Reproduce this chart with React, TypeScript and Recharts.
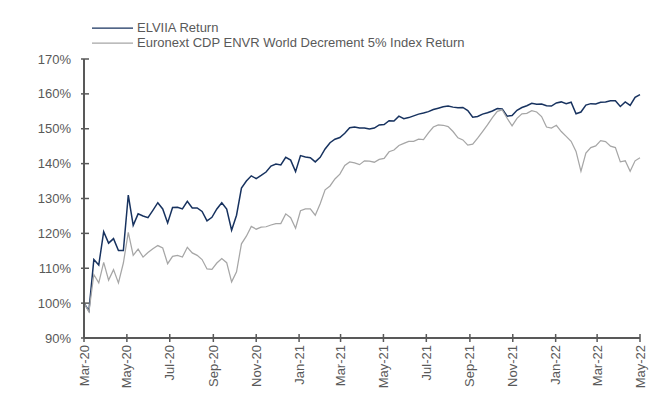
import { LineChart, Line, XAxis, YAxis, Legend } from 'recharts';

// weekly closes, starting 20 Mar 2020 and ending 20 May 2022
const startDate = '2020-03-20';

const elviiaReturn = [
  100.0, 97.8, 112.5, 110.9, 120.5, 117.2, 118.5, 115.1, 115.1, 131.0,
  122.3, 125.6, 125.0, 124.5, 126.6, 128.8, 127.0, 123.0, 127.4, 127.5,
  127.0, 129.2, 127.3, 127.3, 126.3, 123.6, 124.6, 127.0, 128.8, 127.0,
  120.9, 125.2, 133.0, 135.0, 136.5, 135.7, 136.6, 137.6, 139.3, 139.9,
  139.6, 141.8, 141.0, 137.7, 142.3, 141.9, 141.7, 140.5, 141.8, 144.2,
  146.0, 147.0, 147.5, 148.7, 150.3, 150.5, 150.2, 150.2, 149.9, 150.2,
  151.1, 151.2, 152.3, 152.2, 153.6, 152.9, 153.2, 153.7, 154.2, 154.5,
  154.9, 155.5, 155.9, 156.3, 156.5, 156.2, 156.0, 156.1, 155.2, 153.3,
  153.5, 154.2, 154.6, 155.1, 155.8, 155.7, 153.6, 153.8, 155.3, 156.1,
  156.6, 157.3, 157.0, 157.1, 156.6, 156.5, 157.4, 157.7, 157.2, 157.6,
  154.3, 154.8, 156.8, 157.2, 157.1, 157.6, 157.7, 158.0, 158.0, 156.4,
  157.7, 156.7, 159.0, 159.8,
];

const indexReturn = [
  100.0, 97.5, 108.2, 105.8, 111.7, 106.6, 109.6, 105.8, 111.5, 120.3,
  113.7, 115.5, 113.2, 114.5, 115.6, 116.5, 115.8, 111.3, 113.4, 113.7,
  113.2, 116.0, 114.4, 113.7, 112.5, 109.8, 109.7, 111.5, 112.8, 111.6,
  106.1, 109.0, 117.0, 119.2, 122.0, 121.2, 121.8, 121.9, 122.4, 122.8,
  122.8, 125.6, 124.5, 121.5, 126.5, 127.0, 127.0, 125.2, 128.5, 132.5,
  133.6, 135.6, 137.0, 139.5, 140.5, 140.2, 139.7, 140.8, 140.7, 140.4,
  141.2, 141.5, 143.4, 143.9, 145.2, 145.8, 146.4, 146.4, 147.0, 146.9,
  148.8, 150.5, 151.1, 151.0, 150.6, 149.2, 147.4, 146.8, 145.3, 145.6,
  147.3, 149.2, 151.1, 153.2, 155.0, 155.4, 153.0, 150.8, 153.0, 154.3,
  154.4, 155.2, 154.8, 153.5, 150.5, 150.2, 151.0, 149.2, 147.8, 146.4,
  143.5, 137.8, 143.0, 144.6, 145.1, 146.6, 146.3, 145.0, 144.6, 140.5,
  140.8, 137.8, 140.8, 141.7,
];

const tickDates = [
  '2020-03-20', '2020-05-20', '2020-07-20', '2020-09-20', '2020-11-20',
  '2021-01-20', '2021-03-20', '2021-05-20', '2021-07-20', '2021-09-20',
  '2021-11-20', '2022-01-20', '2022-03-20', '2022-05-20',
];

const yTicks = [90, 100, 110, 120, 130, 140, 150, 160, 170];

const MONTHS = ['Jan', 'Feb', 'Mar', 'Apr', 'May', 'Jun', 'Jul', 'Aug', 'Sep', 'Oct', 'Nov', 'Dec'];
const DAY = 86400000;
const FONT = '"Liberation Sans", Arial, sans-serif';
const TEXT = '#595959';
const AXIS = '#595959';

const t0 = Date.parse(startDate);
const data = elviiaReturn.map((v, i) => ({
  t: t0 + i * 7 * DAY,
  elviia: v,
  index: indexReturn[i],
}));
const tickTimes = tickDates.map((d) => Date.parse(d));

const fmtDate = (t: number) => {
  const d = new Date(t);
  return `${MONTHS[d.getUTCMonth()]}-${String(d.getUTCFullYear()).slice(2)}`;
};

const XTick = ({ x, y, payload }: any) => (
  <g>
    <line x1={x} x2={x} y1={y - 4} y2={y + 4} stroke={AXIS} strokeWidth={1.5} />
    <text
      x={x}
      y={y + 7}
      dy="0.35em"
      textAnchor="end"
      transform={`rotate(-90 ${x} ${y + 7})`}
      fill={TEXT}
      fontSize={13}
      fontFamily={FONT}
    >
      {fmtDate(payload.value)}
    </text>
  </g>
);

const YTick = ({ x, y, payload }: any) => (
  <g>
    <line x1={x - 3} x2={x + 5} y1={y} y2={y} stroke={AXIS} strokeWidth={1.5} />
    <text x={x - 13} y={y} dy="0.35em" textAnchor="end" fill={TEXT} fontSize={13} fontFamily={FONT}>
      {`${payload.value}%`}
    </text>
  </g>
);

const renderLegend = (props: any) => (
  <div style={{ fontFamily: FONT, fontSize: 13, color: TEXT, lineHeight: '15px' }}>
    {props.payload.map((p: any) => (
      <div key={p.value} style={{ display: 'flex', alignItems: 'center', height: 15, whiteSpace: 'nowrap' }}>
        <svg width={45} height={6} style={{ display: 'block' }}>
          <line x1={0} x2={41} y1={3} y2={3} stroke={p.color} strokeWidth={1.25} />
        </svg>
        <span>{p.value}</span>
      </div>
    ))}
  </div>
);

export default function App() {
  return (
    <div style={{ position: 'absolute', left: 0, top: 0, background: '#fff' }}>
      <LineChart width={649} height={408} data={data} margin={{ top: 59, right: 9, bottom: 9, left: 24 }}>
        <XAxis
          dataKey="t"
          type="number"
          scale="time"
          domain={[tickTimes[0], tickTimes[tickTimes.length - 1]]}
          ticks={tickTimes}
          tick={<XTick />}
          tickLine={false}
          tickSize={0}
          tickMargin={0}
          height={61}
          axisLine={{ stroke: AXIS, strokeWidth: 2 }}
          interval={0}
        />
        <YAxis
          type="number"
          domain={[90, 170]}
          ticks={yTicks}
          tick={<YTick />}
          tickLine={false}
          tickSize={0}
          tickMargin={0}
          width={60}
          axisLine={{ stroke: AXIS, strokeWidth: 2 }}
          interval={0}
        />
        <Legend
          layout="vertical"
          align="center"
          verticalAlign="middle"
          content={renderLegend}
          wrapperStyle={{ top: 20, left: 92, width: 'auto', height: 'auto' }}
        />
        <Line
          dataKey="elviia"
          name="ELVIIA Return"
          stroke="#17325f"
          strokeWidth={1.5}
          dot={false}
          isAnimationActive={false}
        />
        <Line
          dataKey="index"
          name="Euronext CDP ENVR World Decrement 5% Index Return"
          stroke="#a6a6a6"
          strokeWidth={1.25}
          dot={false}
          isAnimationActive={false}
        />
      </LineChart>
    </div>
  );
}
